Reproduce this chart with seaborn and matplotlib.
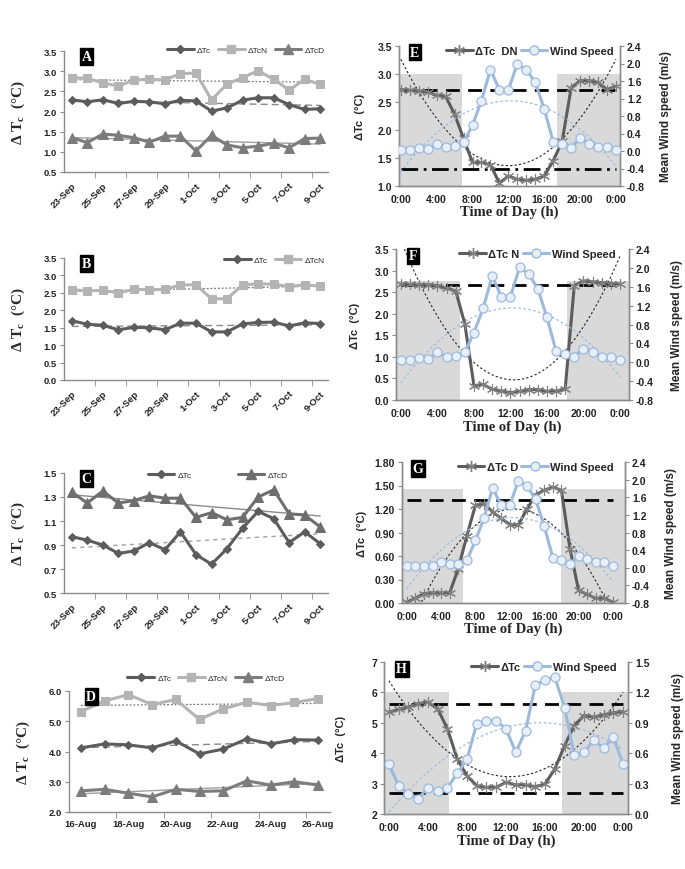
import numpy as np
import matplotlib
matplotlib.use("Agg")
import matplotlib.pyplot as plt
import seaborn as sns
from matplotlib.lines import Line2D

# ---------------- data ----------------
sep_days = ["23-Sep", "24-Sep", "25-Sep", "26-Sep", "27-Sep", "28-Sep", "29-Sep", "30-Sep",
            "1-Oct", "2-Oct", "3-Oct", "4-Oct", "5-Oct", "6-Oct", "7-Oct", "8-Oct", "9-Oct"]
aug_days = ["16-Aug", "17-Aug", "18-Aug", "19-Aug", "20-Aug", "21-Aug", "22-Aug",
            "23-Aug", "24-Aug", "25-Aug", "26-Aug"]
hours = list(range(25))
hour_labels = ["0:00", "4:00", "8:00", "12:00", "16:00", "20:00", "0:00"]

a_tc = [2.29, 2.24, 2.29, 2.20, 2.25, 2.24, 2.19, 2.28, 2.26, 2.01, 2.09, 2.28, 2.34, 2.34, 2.17, 2.05, 2.07]
a_tcn = [2.84, 2.82, 2.71, 2.63, 2.78, 2.80, 2.78, 2.94, 2.95, 2.29, 2.68, 2.84, 3.01, 2.80, 2.53, 2.80, 2.67]
a_tcd = [1.35, 1.23, 1.44, 1.41, 1.35, 1.24, 1.39, 1.39, 1.02, 1.41, 1.17, 1.10, 1.14, 1.21, 1.10, 1.33, 1.34]

b_tc = [1.70, 1.60, 1.57, 1.44, 1.51, 1.50, 1.44, 1.63, 1.63, 1.38, 1.38, 1.61, 1.65, 1.66, 1.55, 1.64, 1.62]
b_tcn = [2.59, 2.56, 2.57, 2.50, 2.60, 2.59, 2.60, 2.73, 2.73, 2.33, 2.33, 2.73, 2.76, 2.75, 2.68, 2.73, 2.69]

c_tc = [0.97, 0.94, 0.90, 0.83, 0.85, 0.92, 0.86, 1.01, 0.82, 0.74, 0.87, 1.04, 1.18, 1.12, 0.92, 1.01, 0.91]
c_tcd = [1.34, 1.25, 1.35, 1.25, 1.27, 1.31, 1.29, 1.29, 1.13, 1.17, 1.11, 1.13, 1.30, 1.36, 1.16, 1.15, 1.05]

d_tc = [4.12, 4.25, 4.22, 4.12, 4.35, 3.92, 4.08, 4.42, 4.25, 4.39, 4.38]
d_tcn = [5.32, 5.67, 5.88, 5.55, 5.72, 5.06, 5.41, 5.63, 5.52, 5.62, 5.75]
d_tcd = [2.70, 2.75, 2.62, 2.50, 2.75, 2.68, 2.70, 3.03, 2.89, 3.00, 2.89]

e_tc = [2.72, 2.71, 2.70, 2.68, 2.62, 2.60, 2.28, 1.85, 1.42, 1.42, 1.38, 1.05, 1.18,
        1.12, 1.10, 1.12, 1.18, 1.45, 1.80, 2.75, 2.88, 2.88, 2.85, 2.72, 2.78]
e_wind = [0.02, 0.02, 0.06, 0.04, 0.16, 0.10, 0.12, 0.20, 0.59, 1.15, 1.86, 1.40, 1.40,
          1.99, 1.86, 1.57, 0.96, 0.21, 0.17, 0.08, 0.29, 0.16, 0.10, 0.10, 0.02]

f_tc = [2.69, 2.68, 2.67, 2.67, 2.65, 2.59, 2.53, 1.76, 0.33, 0.36, 0.25, 0.21, 0.17,
        0.20, 0.24, 0.24, 0.20, 0.21, 0.25, 2.65, 2.76, 2.74, 2.72, 2.70, 2.69]
f_wind = [0.05, 0.05, 0.08, 0.06, 0.21, 0.12, 0.13, 0.21, 0.63, 1.14, 1.83, 1.39, 1.39,
          2.01, 1.87, 1.56, 0.95, 0.24, 0.17, 0.12, 0.29, 0.21, 0.12, 0.12, 0.05]

g_tc = [0.01, 0.06, 0.12, 0.13, 0.13, 0.13, 0.44, 0.86, 1.25, 1.27, 1.16, 1.08, 1.00,
        1.00, 1.20, 1.38, 1.44, 1.48, 1.44, 0.69, 0.16, 0.11, 0.06, 0.06, 0.01]
g_wind = [0.03, 0.03, 0.05, 0.05, 0.13, 0.09, 0.09, 0.17, 0.62, 1.13, 1.81, 1.42, 1.42,
          1.98, 1.85, 1.55, 0.95, 0.23, 0.17, 0.08, 0.27, 0.19, 0.12, 0.13, 0.03]

h_tc = [5.35, 5.44, 5.52, 5.63, 5.68, 5.46, 4.80, 3.81, 3.26, 2.93, 2.88, 2.88, 3.04,
        2.96, 2.96, 2.90, 2.99, 3.48, 4.25, 4.91, 5.24, 5.19, 5.26, 5.33, 5.37]
h_wind = [0.49, 0.28, 0.20, 0.15, 0.26, 0.23, 0.26, 0.40, 0.54, 0.89, 0.92, 0.92, 0.84,
          0.61, 0.82, 1.27, 1.32, 1.35, 1.05, 0.58, 0.61, 0.73, 0.65, 0.76, 0.49]

# ---------------- style ----------------
sns.set_style("white")
plt.rcParams["font.family"] = ["Liberation Sans", "DejaVu Sans"]
plt.rcParams["mathtext.default"] = "regular"

DARK = "#5c5c5c"
MID = "#7c7c7c"
LIGHT = "#b4b4b4"
BLUE = "#9dbadc"
SPINE = "#8c8c8c"
SERIF = ["Liberation Serif", "DejaVu Serif"]

W, H = 685, 870
fig = plt.figure(figsize=(W / 100, H / 100), dpi=100)


def rect(l, t, w, h):
    return [l / W, 1 - (t + h) / H, w / W, h / H]


def letter_box(ax, letter, x, y):
    ax.text(x, y, letter, transform=ax.transAxes, color="white", fontweight="bold",
            family=SERIF, fontsize=10, ha="center", va="center", zorder=10,
            bbox=dict(facecolor="black", edgecolor="black", pad=1.2))


def date_panel(r, letter, labels, series, ylim, yticks, fmt, rotate=True,
               legend_anchor=(1.0, 1.08), legend_cols=3, col_space=0.8):
    ax = fig.add_axes(rect(*r))
    x = np.arange(len(labels))
    handles = []
    for vals, name, color, marker, ms, trend in series:
        sns.lineplot(x=x, y=vals, ax=ax, color=color, lw=2.2, marker=marker,
                     markersize=ms, markeredgecolor=color, markerfacecolor=color)
        # linear trend line
        k, b = np.polyfit(x, vals, 1)
        ends = np.array([x[0], x[-1]])
        ax.plot(ends, k * ends + b, color=trend[0], ls=trend[1], lw=trend[2], zorder=1)
        handles.append(Line2D([], [], color=color, lw=2.2, marker=marker, markersize=ms,
                              markeredgecolor=color, label=name))
    ax.set_xlim(-0.5, len(labels) - 0.5)
    ax.set_ylim(*ylim)
    ax.set_yticks(yticks)
    ax.set_yticklabels([fmt % v for v in yticks])
    ax.set_xticks(x[::2])
    if rotate:
        ax.set_xticklabels(labels[::2], rotation=45, ha="right", rotation_mode="anchor")
    else:
        ax.set_xticklabels(labels[::2])
    ax.set_xticks(np.arange(1.5, len(labels) - 1, 2), minor=True)
    ax.tick_params(axis="x", which="major", length=0, pad=6 if rotate else 5)
    ax.tick_params(axis="x", which="minor", length=4, direction="out", color=SPINE, bottom=True)
    ax.tick_params(axis="y", length=3, direction="out", color=SPINE, left=True, pad=2)
    for t in ax.get_xticklabels() + ax.get_yticklabels():
        t.set_fontweight("bold")
        t.set_fontsize(6.8)
        t.set_color("#222222")
    for s in ["top", "right"]:
        ax.spines[s].set_visible(False)
    for s in ["left", "bottom"]:
        ax.spines[s].set_color(SPINE)
        ax.spines[s].set_linewidth(1.0)
    ax.set_xlabel("")
    ax.set_ylabel("Δ T$_c$  (°C)", family=SERIF, fontweight="bold", fontsize=11)
    ax.yaxis.set_label_coords(-0.14, 0.5)
    ax.legend(handles=handles, loc="upper right", bbox_to_anchor=legend_anchor,
              ncol=legend_cols, frameon=False, fontsize=6, handlelength=3.2,
              columnspacing=col_space, handletextpad=0.4, borderaxespad=0)
    letter_box(ax, letter, 0.085, 0.955)
    return ax


def time_panel(r, letter, tc, wind, tc_name, ylim, yticks, fmt, wlim, wticks,
               shade, hlines, xlim, legend_anchor):
    ax = fig.add_axes(rect(*r))
    ax2 = ax.twinx()
    # night shading
    for x0, x1, top in shade:
        ax.fill_between([x0, x1], ylim[0], top, color="#d9d9d9", lw=0, zorder=0)
    for yv, style in hlines:
        ax.hlines(yv, 0, 24, colors="black", linestyles=style, lw=2.0, zorder=3)
    sns.lineplot(x=hours, y=tc, ax=ax, color=DARK, lw=2.2, marker=(6, 2, 0),
                 markersize=8, markeredgecolor="#808080", markeredgewidth=0.8, zorder=4)
    sns.lineplot(x=hours, y=wind, ax=ax2, color=BLUE, lw=2.2, marker="o",
                 markersize=6.5, markeredgecolor=BLUE, markerfacecolor="#e8eff8",
                 markeredgewidth=0.9, zorder=4)
    # polynomial trend lines
    xs = np.linspace(0, 24, 200)
    p = np.polyfit(hours, tc, 2)
    ax.plot(xs, np.polyval(p, xs), color="#222222", ls=(0, (2, 2)), lw=0.8, zorder=2)
    pw = np.polyfit(hours, wind, 2)
    ax2.plot(xs, np.polyval(pw, xs), color=BLUE, ls=(0, (2, 2)), lw=0.9, zorder=2)

    ax.set_xlim(*xlim)
    ax.set_ylim(*ylim)
    ax2.set_ylim(*wlim)
    ax.set_yticks(yticks)
    ax.set_yticklabels([fmt % v for v in yticks])
    ax2.set_yticks(wticks)
    ax2.set_yticklabels(["%.1f" % v for v in wticks])
    ax.set_xticks(np.arange(0, 25, 4))
    ax.set_xticklabels(hour_labels)
    ax.tick_params(axis="x", length=0, pad=6)
    ax.tick_params(axis="y", length=3, direction="out", color=SPINE, left=True, pad=2)
    ax2.tick_params(axis="y", length=3, direction="out", color=SPINE, right=True, pad=2)
    for t in ax.get_xticklabels() + ax.get_yticklabels() + ax2.get_yticklabels():
        t.set_fontweight("bold")
        t.set_fontsize(7.5)
        t.set_color("#222222")
    for a in (ax, ax2):
        a.spines["top"].set_visible(False)
        for s in ["left", "right", "bottom"]:
            a.spines[s].set_color(SPINE)
            a.spines[s].set_linewidth(1.0)
    ax.set_ylabel("ΔTc  (°C)", fontweight="bold", fontsize=8)
    ax.yaxis.set_label_coords(-0.155, 0.5)
    ax2.set_ylabel("Mean Wind speed (m/s)", fontweight="bold", fontsize=8.5)
    ax2.yaxis.set_label_coords(1.18, 0.5)
    ax.set_xlabel("Time of Day (h)", family=SERIF, fontweight="bold", fontsize=10.5)
    ax.xaxis.set_label_coords(0.5, -0.13)
    handles = [Line2D([], [], color=DARK, lw=2.2, marker=(6, 2, 0), markersize=8,
                      markeredgecolor="#808080", label=tc_name),
               Line2D([], [], color=BLUE, lw=2.2, marker="o", markersize=6.5,
                      markeredgecolor=BLUE, markerfacecolor="#e8eff8", label="Wind Speed")]
    leg = ax2.legend(handles=handles, loc="upper right", bbox_to_anchor=legend_anchor,
                     ncol=2, frameon=False, handlelength=2.4, columnspacing=0.3,
                     handletextpad=0.2, borderaxespad=0,
                     prop=dict(weight="bold", size=8))
    leg.set_zorder(20)
    letter_box(ax2, letter, 0.072, 0.955)
    return ax, ax2


# ---------------- left column ----------------
date_panel((64, 52, 264, 121), "A", sep_days,
           [(a_tc, "ΔTc", DARK, "D", 4.5, ("#8a8a8a", (0, (5, 3)), 1.0)),
            (a_tcn, "ΔTcN", LIGHT, "s", 6, ("#777777", (0, (1.5, 1.5)), 0.9)),
            (a_tcd, "ΔTcD", MID, "^", 6.5, ("#a0a0a0", "-", 1.0))],
           (0.5, 3.5), np.arange(0.5, 3.51, 0.5), "%.1f", legend_anchor=(1.0, 1.07))

date_panel((64, 259, 264, 122), "B", sep_days,
           [(b_tc, "ΔTc", DARK, "D", 4.5, ("#8a8a8a", (0, (5, 3)), 1.0)),
            (b_tcn, "ΔTcN", LIGHT, "s", 6, ("#777777", (0, (1.5, 1.5)), 0.9))],
           (0.0, 3.5), np.arange(0.0, 3.51, 0.5), "%.1f", legend_anchor=(1.0, 1.04),
           legend_cols=2)

date_panel((64, 474, 264, 120), "C", sep_days,
           [(c_tc, "ΔTc", DARK, "D", 4.5, ("#a0a0a0", (0, (3, 3)), 1.0)),
            (c_tcd, "ΔTcD", "#6e6e6e", "^", 6.5, ("#8a8a8a", "-", 1.0))],
           (0.5, 1.5), [0.5, 0.7, 0.9, 1.1, 1.3, 1.5], "%.1f", legend_anchor=(0.86, 1.04),
           legend_cols=2, col_space=5.5)

date_panel((69, 692, 261, 121), "D", aug_days,
           [(d_tc, "ΔTc", DARK, "D", 4.5, ("#8a8a8a", (0, (5, 3)), 1.0)),
            (d_tcn, "ΔTcN", LIGHT, "s", 6, ("#777777", (0, (1.5, 1.5)), 0.9)),
            (d_tcd, "ΔTcD", MID, "^", 6.5, ("#a0a0a0", "-", 1.0))],
           (2.0, 6.0), np.arange(2.0, 6.01, 1.0), "%.1f", rotate=False,
           legend_anchor=(0.84, 1.17))

# ---------------- right column ----------------
time_panel((399, 47, 221, 140), "E", e_tc, e_wind, "ΔTc  DN",
           (1.0, 3.5), np.arange(1.0, 3.51, 0.5), "%.1f",
           (-0.8, 2.4), np.arange(-0.8, 2.41, 0.4),
           [(-0.2, 6.8, 3.0), (17.46, 24.45, 3.0)],
           [(2.72, (0, (5, 3))), (1.3, (0, (6, 2, 1, 2)))],
           (-0.2, 24.45), (0.99, 1.03))

time_panel((396, 250, 233, 151), "F", f_tc, f_wind, "ΔTc N",
           (0.0, 3.5), np.arange(0.0, 3.51, 0.5), "%.1f",
           (-0.8, 2.4), np.arange(-0.8, 2.41, 0.4),
           [(-0.55, 6.5, 2.75), (18.25, 25.0, 2.75)],
           [(2.67, (0, (5, 3)))],
           (-0.55, 25.0), (0.96, 1.03))

time_panel((402, 463, 223, 141), "G", g_tc, g_wind, "ΔTc D",
           (0.0, 1.8), np.arange(0.0, 1.81, 0.3), "%.2f",
           (-0.8, 2.4), np.arange(-0.8, 2.41, 0.4),
           [(-0.55, 6.5, 1.45), (18.0, 25.4, 1.45)],
           [(1.32, (0, (5, 3)))],
           (-0.55, 25.4), (0.97, 1.03))

time_panel((384, 663, 244, 152), "H", h_tc, h_wind, "ΔTc",
           (2, 7), np.arange(2, 7.01, 1), "%d",
           (0.0, 1.5), np.arange(0.0, 1.51, 0.3),
           [(-0.5, 6.2, 6.0), (17.7, 24.5, 6.0)],
           [(5.62, (0, (5, 3))), (2.70, (0, (5, 3)))],
           (-0.5, 24.5), (0.97, 1.03))

fig.savefig("out.png", dpi=100, facecolor="white")
